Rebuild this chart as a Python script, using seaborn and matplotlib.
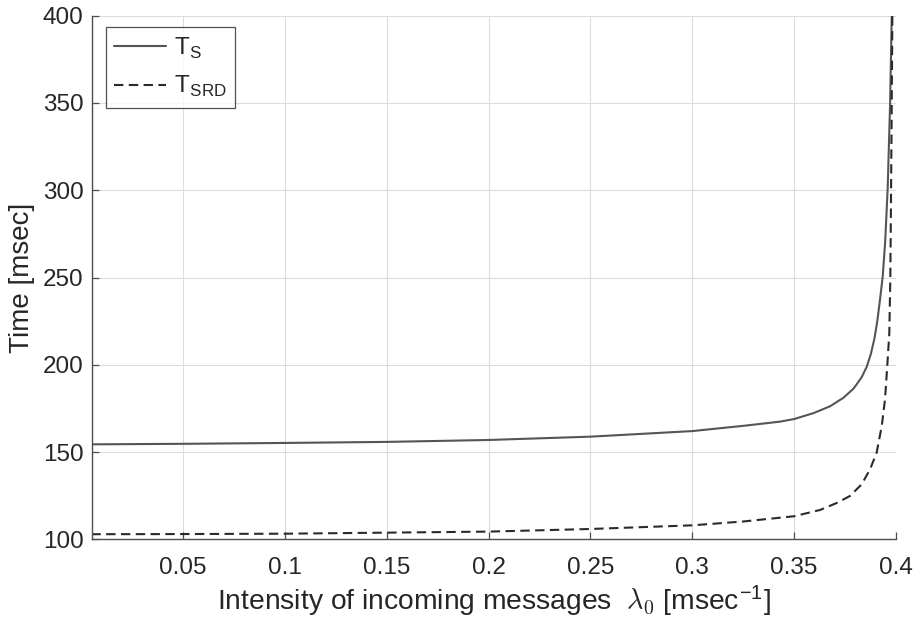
import matplotlib
matplotlib.use("Agg")
import matplotlib.pyplot as plt
import seaborn as sns
import pandas as pd

# Data
lam_s = [0.005, 0.05, 0.1, 0.15, 0.2, 0.25, 0.3, 0.325, 0.343, 0.35, 0.3595, 0.3676,
         0.3742, 0.3791, 0.381, 0.3832, 0.3856, 0.3876, 0.3894, 0.3908, 0.392, 0.3935,
         0.3947, 0.3959, 0.3971, 0.3979]
t_s = [154.4, 154.7, 155.2, 155.8, 156.9, 158.8, 162.0, 165.0, 167.4, 168.9, 172.3, 176.2,
       181.1, 186.3, 189.3, 193.0, 198.8, 206.0, 215.0, 225.0, 236.0, 251.0,
       271.0, 301.0, 350.0, 400.0]

lam_srd = [0.005, 0.05, 0.1, 0.15, 0.2, 0.25, 0.3, 0.325, 0.35, 0.3627, 0.3709,
           0.3775, 0.3832, 0.3873, 0.3905, 0.393, 0.3946, 0.3957, 0.3967, 0.3972,
           0.3975, 0.3979, 0.3982]
t_srd = [102.9, 103.0, 103.2, 103.8, 104.4, 105.9, 108.0, 110.2, 113.2, 116.8, 120.8,
         124.9, 131.6, 140.2, 149.7, 164.9, 180.3, 199.3, 218.0, 250.0,
         290.0, 350.0, 400.0]

x_ticks = [0.05, 0.1, 0.15, 0.2, 0.25, 0.3, 0.35, 0.4]
x_tick_labels = ["0.05", "0.1", "0.15", "0.2", "0.25", "0.3", "0.35", "0.4"]
y_ticks = [100, 150, 200, 250, 300, 350, 400]
series_labels = [r"T$_{\mathregular{S}}$", r"T$_{\mathregular{SRD}}$"]

sns.set_theme(style="whitegrid")
plt.rcParams["font.family"] = ["Liberation Sans", "DejaVu Sans"]
plt.rcParams["mathtext.fontset"] = "cm"

df_s = pd.DataFrame({"lam": lam_s, "T": t_s})
df_srd = pd.DataFrame({"lam": lam_srd, "T": t_srd})

fig = plt.figure(figsize=(9.19, 6.34), dpi=100)
ax = fig.add_axes([0.1001, 0.1494, 0.8749, 0.8258])
ax.set_facecolor("white")

sns.lineplot(data=df_s, x="lam", y="T", ax=ax, color="#555555", lw=1.5,
             label=series_labels[0], estimator=None, sort=False)
sns.lineplot(data=df_srd, x="lam", y="T", ax=ax, color="#2a2a2a", lw=1.5,
             linestyle=(0, (4.5, 2.6)), label=series_labels[1], estimator=None, sort=False)

ax.set_xlim(0.0053, 0.4)
ax.set_ylim(100, 400)
ax.set_xticks(x_ticks)
ax.set_xticklabels(x_tick_labels)
ax.set_yticks(y_ticks)

ax.grid(True, color="#dcdcdc", lw=0.8)
for s in ["top", "right"]:
    ax.spines[s].set_visible(False)
for s in ["left", "bottom"]:
    ax.spines[s].set_visible(True)
    ax.spines[s].set_color("#4d4d4d")
    ax.spines[s].set_linewidth(1.0)

ax.tick_params(axis="both", direction="in", length=5, width=0.9, color="#4d4d4d",
               labelsize=17.5, labelcolor="#262626", bottom=True, left=True)
ax.tick_params(axis="x", pad=13)
ax.tick_params(axis="y", pad=6)

ax.set_ylabel("Time [msec]", fontsize=20, color="#262626", labelpad=6)
ax.set_xlabel(r"Intensity of incoming messages  $\lambda_0$ [msec$^{\mathregular{-1}}$]",
              fontsize=20.3, color="#262626", labelpad=3)

leg = ax.legend(loc="upper left", bbox_to_anchor=(0.017, 0.978), fontsize=17.5,
                frameon=True, fancybox=False, edgecolor="#262626",
                handlelength=2.15, borderpad=0.35, labelspacing=0.55, handletextpad=0.3,
                borderaxespad=0.0)
leg.get_frame().set_linewidth(0.9)
for t in leg.get_texts():
    t.set_color("#262626")

fig.savefig("out.png", dpi=100, facecolor="white")
